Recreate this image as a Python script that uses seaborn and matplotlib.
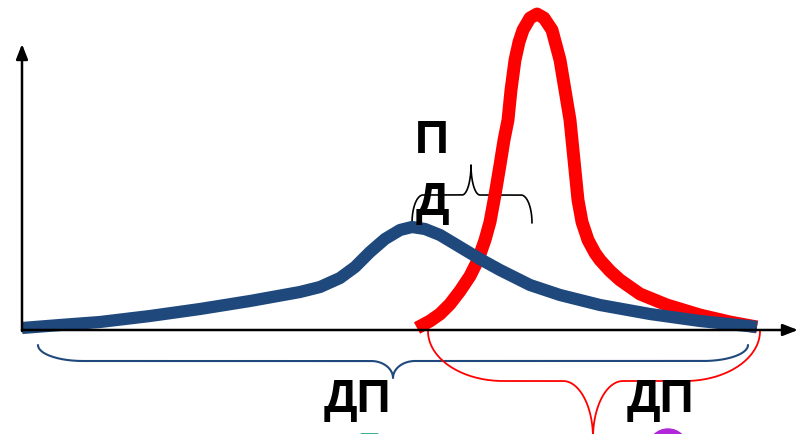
import numpy as np
import pandas as pd
import matplotlib
matplotlib.use("Agg")
import matplotlib.pyplot as plt
import seaborn as sns
from matplotlib.patches import Circle

# Curve readings (x to the right of the y axis, y above the x axis; units ~ pixels)
blue_x = [0, 38, 78, 128, 178, 228, 278, 298, 318, 333, 348, 363, 378, 390, 403, 418, 438, 458, 478, 508, 538, 578, 628, 678, 735]
blue_y = [2, 5, 8, 14, 21, 29, 38, 43, 52, 63, 78, 91, 100, 103, 101, 95, 83, 71, 60, 45, 35, 25, 16, 9, 3]

red_x = [395, 408, 418, 428, 438, 448, 456, 463, 468, 473, 478, 482, 486, 489, 493, 497, 501, 508, 515,
         522, 530, 534, 538, 543, 548, 552, 556, 560, 566, 573, 578, 588, 598, 618, 645, 678, 708, 735]
red_y = [2, 9, 16, 26, 39, 54, 70, 90, 108, 135, 165, 190, 210, 240, 270, 288, 300, 312, 316,
         312, 300, 285, 270, 240, 210, 170, 130, 108, 90, 77, 70, 59, 50, 36, 25, 15, 8, 3]

label_top = ["П", "Д"]
label_bottom = ["ДП", "ДП"]

blue = "#1F497D"
red = "#FF0000"

sns.set_style("white")
plt.rcParams['font.family'] = ['Liberation Sans', 'DejaVu Sans']
plt.rcParams['text.color'] = 'black'

fig = plt.figure(figsize=(7.98, 4.34), dpi=100)
ax = fig.add_axes([0, 0, 1, 1])
ax.set_xlim(-22, 776)
ax.set_ylim(-104, 330)
ax.set_axis_off()

df_blue = pd.DataFrame({"x": blue_x, "y": blue_y})
df_red = pd.DataFrame({"x": red_x, "y": red_y})
sns.lineplot(data=df_red, x="x", y="y", sort=False, color=red, lw=9.3, ax=ax,
             solid_capstyle="butt", solid_joinstyle="round", zorder=2)
sns.lineplot(data=df_blue, x="x", y="y", sort=False, color=blue, lw=8.8, ax=ax,
             solid_capstyle="butt", solid_joinstyle="round", zorder=3)

# axes arrows
arrow = dict(arrowstyle="-|>,head_length=0.9,head_width=0.35", lw=1.8, color="black",
             shrinkA=0, shrinkB=0)
ax.annotate("", xy=(776, 0), xytext=(0, 0), arrowprops=arrow, zorder=4)
ax.annotate("", xy=(0, 286), xytext=(0, -1), arrowprops=arrow, zorder=4)


def brace(x0, x1, xt, y_end, y_line, y_tip, r_end, r_tip, color, lw):
    # curly brace: end hooks, flat runs, pointed middle
    t = np.linspace(0, np.pi / 2, 40)
    xs, ys = [], []
    xs += list(x0 + r_end * (1 - np.cos(t)))
    ys += list(y_end + (y_line - y_end) * np.sin(t))
    xs += list(xt - r_tip + r_tip * np.sin(t))
    ys += list(y_line + (y_tip - y_line) * (1 - np.cos(t)))
    xs += list(xt + r_tip - r_tip * np.cos(t))
    ys += list(y_tip + (y_line - y_tip) * np.sin(t))
    xs += list(x1 - r_end + r_end * np.sin(t))
    ys += list(y_line + (y_end - y_line) * (1 - np.cos(t)))
    ax.plot(xs, ys, color=color, lw=lw, solid_capstyle="round", zorder=1)


brace(16, 726, 371, -15, -31, -48, 45, 22, blue, 1.5)
brace(406, 738, 571, -1, -51, -108, 75, 30, red, 1.3)
brace(390, 510, 449, 107, 135, 165, 11, 9, "black", 1.2)

# labels
ax.text(410, 189, label_top[0], fontsize=34, fontweight="bold", ha="center", va="center", zorder=5)
ax.text(410, 127, label_top[1], fontsize=34, fontweight="bold", ha="center", va="center", zorder=5)
ax.text(335, -70, label_bottom[0], fontsize=34, fontweight="bold", ha="center", va="center", zorder=5)
ax.text(638, -70, label_bottom[1], fontsize=34, fontweight="bold", ha="center", va="center", zorder=5)

# partially visible shapes at the bottom edge
ax.plot([339, 355], [-103.5, -103.5], color="#26A386", lw=2)
ax.add_patch(Circle((646, -119), 20, color="#B026D9", zorder=1))

fig.savefig("out.png", dpi=100)
